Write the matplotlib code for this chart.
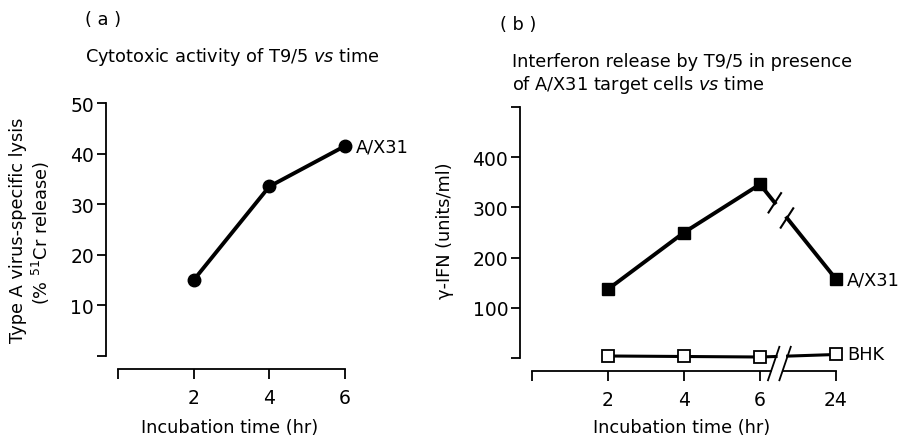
import numpy as np
import matplotlib
matplotlib.use('Agg')
import matplotlib.pyplot as plt

# (a) cytotoxic activity of T9/5
lysis_time = [2, 4, 6]
lysis_pct = [15, 33.5, 41.5]

# (b) interferon release, 24 hr is placed after an axis break
ifn_labels = ['2', '4', '6', '24']
ifn_pos = [2, 4, 6, 8]
ifn_ax31 = [137, 250, 346, 157]
ifn_bhk = [4, 3, 2, 7]

W, H = 909, 439
plt.rcParams['font.family'] = 'DejaVu Sans'
plt.rcParams['font.size'] = 12.8
plt.rcParams['mathtext.fontset'] = 'dejavusans'

fig = plt.figure(figsize=(W / 100, H / 100), dpi=100)


def rect(x0, x1, top, bottom):
    return [x0 / W, 1 - bottom / H, (x1 - x0) / W, (bottom - top) / H]


def ftext(x, y, s, **kw):
    fig.text(x / W, 1 - y / H, s, va='center', **kw)


def style(ax):
    for s in ['top', 'right']:
        ax.spines[s].set_visible(False)
    ax.spines['left'].set_position(('outward', 8.6))
    ax.spines['bottom'].set_position(('outward', 9.4))
    ax.spines['left'].set_linewidth(1.3)
    ax.spines['bottom'].set_linewidth(1.3)
    ax.tick_params(axis='y', direction='out', length=6.5, width=1.3, pad=2, labelsize=13.5)
    ax.tick_params(axis='x', direction='out', length=7.5, width=1.3, pad=6, labelsize=13.5)
    ax.patch.set_visible(False)


def slash(ax, p, v, dp, dv, lw=1.5):
    ax.plot([p - dp, p + dp], [v - dv, v + dv], color='k', lw=lw,
            clip_on=False, solid_capstyle='butt')


# ---- panel (a)
ax_a = fig.add_axes(rect(118, 345, 104, 357))
style(ax_a)
ax_a.set_xlim(0, 6)
ax_a.set_ylim(0, 50)
ax_a.set_xticks([0, 2, 4, 6], ['', '2', '4', '6'])
ax_a.set_yticks(range(0, 51, 10), [''] + [str(v) for v in range(10, 51, 10)])
ax_a.plot(lysis_time, lysis_pct, color='k', lw=2.8, marker='o', ms=9, clip_on=False)
ax_a.annotate('A/X31', (lysis_time[-1], lysis_pct[-1]), xytext=(8, 0),
              textcoords='offset points', ha='left', va='center')

# ---- panel (b)
ax_b = fig.add_axes(rect(532, 836, 108, 359))
style(ax_b)
ax_b.set_xlim(0, 8)
ax_b.set_ylim(0, 500)
ax_b.set_xticks([0] + ifn_pos, [''] + ifn_labels)
ax_b.set_yticks(range(0, 501, 100), [''] + [str(v) for v in range(100, 401, 100)] + [''])
ax_b.spines['bottom'].set_visible(False)

# data y of the (offset) bottom axis line
tick_tr = ax_b.get_xaxis_transform(which='tick1')
y_axis = ax_b.transData.inverted().transform(tick_tr.transform((0, 0)))[1]

# A/X31 line with break between 6 and 24 hr
brk_a = [6.39, 6.71]
va = np.interp(brk_a, ifn_pos[2:], ifn_ax31[2:])
ax_b.plot(ifn_pos[:3] + [brk_a[0]], ifn_ax31[:3] + [va[0]], color='k', lw=2.8, clip_on=False)
ax_b.plot([brk_a[1], ifn_pos[3]], [va[1], ifn_ax31[3]], color='k', lw=2.8, clip_on=False)
ax_b.plot(ifn_pos, ifn_ax31, ls='none', marker='s', ms=9, color='k', clip_on=False)
for p, v in zip(brk_a, va):
    slash(ax_b, p, v, 0.18, 21)

# BHK line and x axis share long break slashes
brk_b = [6.36, 6.66]
k = 0.0045
v_mid = 0.5 * (y_axis + np.mean(ifn_bhk))
def brk_at(p0, v):
    return p0 + k * (v - v_mid)

vb = np.interp([6.4, 6.7], ifn_pos[2:], ifn_bhk[2:])
ax_b.plot(ifn_pos[:3] + [brk_at(brk_b[0], vb[0])], ifn_bhk[:3] + [vb[0]],
          color='k', lw=2.2, clip_on=False)
ax_b.plot([brk_at(brk_b[1], vb[1]), ifn_pos[3]], [vb[1], ifn_bhk[3]],
          color='k', lw=2.2, clip_on=False)
ax_b.plot(ifn_pos, ifn_bhk, ls='none', marker='s', ms=8.5, mfc='white', mec='k',
          mew=1.3, clip_on=False)
ax_b.plot([0, brk_at(brk_b[0], y_axis)], [y_axis, y_axis], color='k', lw=1.3, clip_on=False)
ax_b.plot([brk_at(brk_b[1], y_axis), ifn_pos[-1]], [y_axis, y_axis], color='k', lw=1.3,
          clip_on=False)
half = 35
for p in brk_b:
    slash(ax_b, p, v_mid, k * half, half, lw=1.3)

ax_b.annotate('A/X31', (ifn_pos[-1], ifn_ax31[-1]), xytext=(8, 0),
              textcoords='offset points', ha='left', va='center')
ax_b.annotate('BHK', (ifn_pos[-1], ifn_bhk[-1]), xytext=(8, 0),
              textcoords='offset points', ha='left', va='center')

# ---- texts
ftext(85, 20, '( a )')
ftext(85, 57, r'Cytotoxic activity of T9/5 $\it{vs}$ time')
ftext(500, 25, '( b )')
ftext(512, 62, 'Interferon release by T9/5 in presence')
ftext(512, 85, r'of A/X31 target cells $\it{vs}$ time')

ftext(230, 428, 'Incubation time (hr)', ha='center')
ftext(682, 428, 'Incubation time (hr)', ha='center')

ftext(18, 230, 'Type A virus-specific lysis', ha='center', rotation=90)
ftext(41, 233, r'(% $^{51}$Cr release)', ha='center', rotation=90)
ftext(445, 231, 'γ-IFN (units/ml)', ha='center', rotation=90)

fig.savefig('out.png', dpi=100)
